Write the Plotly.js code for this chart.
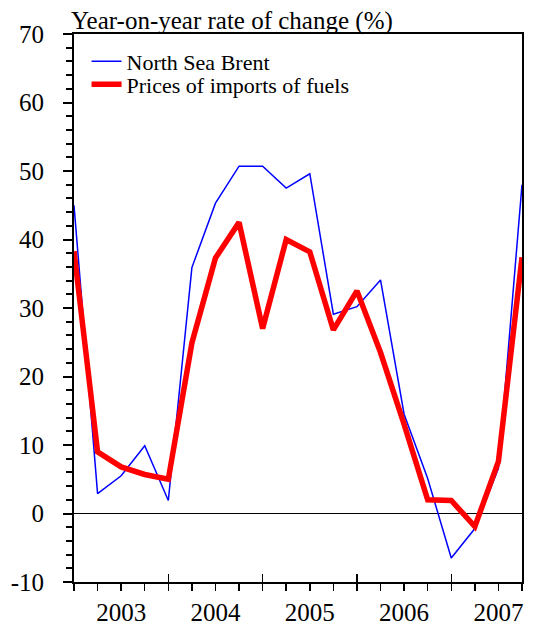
<!DOCTYPE html>
<html>
<head>
<meta charset="utf-8">
<script src="https://cdn.plot.ly/plotly-3.0.1.min.js"></script>
<style>
html,body{margin:0;padding:0;background:#fff;}
#chart{width:534px;height:625px;}
#chart text { font-family: "Liberation Serif", serif !important; }
</style>
</head>
<body>
<div id="chart"></div>
<script>
// Quarterly observations (index of quarter, first point = end of 2002)
const quarters = [0, 1, 2, 3, 4, 5, 6, 7, 8, 9, 10, 11, 12, 13, 14, 15, 16, 17, 18, 19];
const brent = [45.0, 2.9, 5.5, 9.9, 1.9, 35.9, 45.3, 50.7, 50.7, 47.5, 49.6, 29.1, 30.2, 34.1, 14.5, 5.1, -6.5, -2.2, 6.6, 48.0];
const fuels = [38.3, 9.0, 6.8, 5.7, 5.0, 24.9, 37.3, 42.5, 27.0, 40.0, 38.2, 26.8, 32.5, 23.5, 13.0, 2.0, 1.9, -1.9, 7.6, 37.4];
const yearLabels = ['2003', '2004', '2005', '2006', '2007'];
const yearLabelPos = [2, 6, 10, 14, 18];
const yearBoundaries = [4, 8, 12, 16];
const yTickVals = [-10, 0, 10, 20, 30, 40, 50, 60, 70];
const yTickText = ['-10', '0', '10', '20', '30', '40', '50', '60', '70'];

const FONT = '"Liberation Serif", serif';

const traces = [
  {x: quarters, y: brent, type: 'scatter', mode: 'lines', name: 'North Sea Brent',
   line: {color: '#0000ff', width: 1.5}, legend: 'legend'},
  {x: quarters, y: fuels, type: 'scatter', mode: 'lines', name: 'Prices of imports of fuels',
   line: {color: '#ff0000', width: 5.5}, legend: 'legend2'},
  {x: [yearBoundaries[0]], y: [null], xaxis: 'x2', yaxis: 'y', showlegend: false, hoverinfo: 'skip'}
];

const legendCommon = {
  x: 0.028, xanchor: 'left', yanchor: 'middle',
  bgcolor: 'rgba(0,0,0,0)', borderwidth: 0,
  font: {family: FONT, size: 22, color: '#000'}
};

const layout = {
  width: 534, height: 625,
  margin: {l: 74, r: 12, t: 34, b: 43},
  paper_bgcolor: '#fff', plot_bgcolor: '#fff',
  font: {family: FONT, color: '#000', size: 25},
  title: {text: 'Year-on-year rate of change (%)', font: {family: FONT, size: 25, color: '#000'},
          xref: 'container', x: 71/534, xanchor: 'left', yref: 'container', y: 1 - 29/625, yanchor: 'bottom', pad: {t: 0, b: 0, l: 0, r: 0}},
  showlegend: true,
  legend: Object.assign({}, legendCommon, {y: 0.950}),
  legend2: Object.assign({}, legendCommon, {y: 0.908}),
  xaxis: {
    range: [0, 19], tickmode: 'array', tickvals: yearLabelPos, ticktext: yearLabels,
    ticks: 'outside', ticklen: 7, tickwidth: 1.5, tickcolor: '#000',
    minor: {tickmode: 'linear', tick0: 0, dtick: 1, ticks: 'outside', ticklen: 7, tickwidth: 1.5, tickcolor: '#000', showgrid: false},
    showline: true, linewidth: 2, linecolor: '#000', mirror: true,
    showgrid: false, zeroline: false,
    tickfont: {family: FONT, size: 25, color: '#000'}
  },
  xaxis2: {
    overlaying: 'x', anchor: 'y', side: 'bottom', range: [0, 19],
    tickmode: 'array', tickvals: yearBoundaries, ticks: 'inside', ticklen: 8, tickwidth: 1.5, tickcolor: '#000',
    showticklabels: false, showline: false, showgrid: false, zeroline: false
  },
  yaxis: {
    range: [-10, 70], tickmode: 'array', tickvals: yTickVals, ticktext: yTickText,
    ticks: 'outside', ticklen: 9, tickwidth: 2, tickcolor: '#000', ticklabelstandoff: 14,
    minor: {tickmode: 'linear', tick0: 0, dtick: 2, ticks: 'outside', ticklen: 6, tickwidth: 2, tickcolor: '#000', showgrid: false},
    showline: true, linewidth: 2, linecolor: '#000', mirror: true,
    showgrid: false, zeroline: true, zerolinecolor: '#000', zerolinewidth: 1.5,
    tickfont: {family: FONT, size: 25, color: '#000'}
  }
};

Plotly.newPlot('chart', traces, layout, {staticPlot: true, displayModeBar: false});
</script>
</body>
</html>
